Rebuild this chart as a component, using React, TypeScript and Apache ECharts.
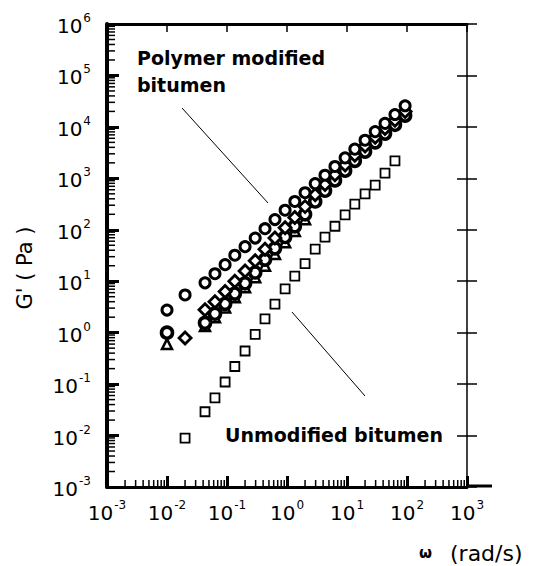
import React, { useEffect, useRef } from "react";
import * as echarts from "echarts";

// ω (rad/s) and G' (Pa) values
const unmodW = [0.02, 0.043, 0.063, 0.093, 0.135, 0.2, 0.295, 0.43, 0.63, 0.93, 1.35, 2.0, 2.95, 4.3, 6.3, 9.3, 13.5, 20, 29.5, 43, 63];
const unmodG = [0.0089, 0.029, 0.054, 0.11, 0.22, 0.44, 0.93, 1.86, 3.6, 7.1, 12.6, 22, 42, 72, 117, 195, 316, 500, 740, 1260, 2190];

const circW = [0.01, 0.02, 0.043, 0.063, 0.093, 0.135, 0.2, 0.295, 0.43, 0.63, 0.93, 1.35, 2.0, 2.95, 4.3, 6.3, 9.3, 13.5, 20, 29.5, 43, 63, 93];
const circG = [2.75, 5.4, 9.3, 14, 21, 32, 47, 69, 105, 158, 240, 355, 525, 790, 1150, 1700, 2500, 3700, 5500, 8100, 11700, 17400, 25700];

const starW = [0.01, 0.043, 0.063, 0.093, 0.135, 0.2, 0.295, 0.43, 0.63, 0.93, 1.35, 2.0, 2.95, 4.3, 6.3, 9.3, 13.5, 20, 29.5, 43, 63, 93];
const starG = [1.0, 1.55, 2.34, 3.63, 5.75, 9.12, 14.8, 26.3, 43.6, 72.4, 117, 200, 355, 575, 912, 1410, 2190, 3310, 5010, 7410, 11000, 16600];

const diamW = [0.02, 0.043, 0.063, 0.093, 0.135, 0.2, 0.295, 0.43, 0.63, 0.93, 1.35, 2.0, 2.95, 4.3, 6.3, 9.3, 13.5, 20, 29.5, 43, 63, 93];
const diamG = [0.79, 2.8, 4.0, 6.3, 10, 15.8, 25, 41.7, 69, 110, 174, 282, 479, 759, 1175, 1820, 2820, 4270, 6310, 9330, 13500, 20000];

const triW = [0.01, 0.043, 0.063, 0.093, 0.135, 0.2, 0.295, 0.43, 0.63, 0.93, 1.35, 2.0];
const triG = [0.6, 1.35, 2.0, 3.1, 4.9, 7.6, 12, 20, 34, 57, 95, 160];

const X_MIN = 1e-3, X_MAX = 1e3, Y_MIN = 1e-3, Y_MAX = 1e6;
const FONT = "DejaVu Sans";

function pairs(w: number[], g: number[]) {
  return w.map((v, i) => [v, g[i]]);
}

function minorValues(fromExp: number, toExp: number) {
  const out: number[] = [];
  for (let d = fromExp; d < toExp; d++) {
    for (let k = 2; k <= 9; k++) out.push(k * Math.pow(10, d));
  }
  return out;
}

const xMinor = minorValues(-3, 3);
const yMinor = minorValues(-3, 6);

const richLabel = {
  b: { fontSize: 20, fontFamily: FONT, color: "#000", verticalAlign: "bottom", lineHeight: 24 },
  e: { fontSize: 12, fontFamily: FONT, color: "#000", verticalAlign: "top", lineHeight: 24, padding: [0, 0, 0, 1] },
};

const fmt = (v: number) => `{b|10}{e|${Math.round(Math.log10(v))}}`;

const staticGraphic: any[] = [
  { type: "line", shape: { x1: 467, y1: 486, x2: 492, y2: 486 }, style: { stroke: "#000", lineWidth: 3 } },
  { type: "line", shape: { x1: 182, y1: 108, x2: 268, y2: 203 }, style: { stroke: "#000", lineWidth: 1 } },
  { type: "line", shape: { x1: 292, y1: 312, x2: 365, y2: 396 }, style: { stroke: "#000", lineWidth: 1 } },
  { type: "text", x: 137, y: 58, style: { text: "Polymer modified", font: `bold 19px "${FONT}"`, fill: "#000", textVerticalAlign: "middle" } },
  { type: "text", x: 137, y: 85, style: { text: "bitumen", font: `bold 19px "${FONT}"`, fill: "#000", textVerticalAlign: "middle" } },
  { type: "text", x: 225, y: 435, style: { text: "Unmodified bitumen", font: `bold 19px "${FONT}"`, fill: "#000", textVerticalAlign: "middle" } },
  { type: "text", x: 25, y: 268, rotation: Math.PI / 2, style: { text: "G' ( Pa )", font: `21px "${FONT}"`, fill: "#000", textAlign: "center", textVerticalAlign: "middle" } },
  { type: "text", x: 419, y: 553, style: { text: "ω", font: `bold 15px "${FONT}"`, fill: "#000", textVerticalAlign: "middle" } },
  { type: "text", x: 450, y: 553, style: { text: "(rad/s)", font: `22px "${FONT}"`, fill: "#000", textVerticalAlign: "middle" } },
];

export default function App() {
  const ref = useRef<HTMLDivElement>(null);
  useEffect(() => {
    document.body.style.margin = "0";
    const chart = echarts.init(ref.current!, undefined, { renderer: "svg" });
    const hollow = (bw: number) => ({ color: "#fff", borderColor: "#000", borderWidth: bw, opacity: 1 });
    chart.setOption({
      animation: false,
      backgroundColor: "#fff",
      grid: { left: 107, top: 24, right: 73, bottom: 79 },
      xAxis: [
        {
          type: "log", logBase: 10, min: X_MIN, max: X_MAX, position: "bottom",
          axisLine: { onZero: false, lineStyle: { color: "#000", width: 3 } },
          axisTick: { inside: true, length: 11, lineStyle: { color: "#000", width: 3 } },
          axisLabel: { formatter: fmt, rich: richLabel, margin: 12 },
          splitLine: { show: false },
        },
        {
          type: "log", logBase: 10, min: X_MIN, max: X_MAX, position: "top",
          axisLine: { onZero: false, lineStyle: { color: "#000", width: 3 } },
          axisTick: { inside: true, length: 8, lineStyle: { color: "#000", width: 1.5 } },
          axisLabel: { show: false },
          splitLine: { show: false },
        },
      ],
      yAxis: [
        {
          type: "log", logBase: 10, min: Y_MIN, max: Y_MAX, position: "left",
          axisLine: { onZero: false, lineStyle: { color: "#000", width: 4 } },
          axisTick: { inside: true, length: 12, lineStyle: { color: "#000", width: 3 } },
          axisLabel: { formatter: fmt, rich: richLabel, margin: 16 },
          splitLine: { show: false },
        },
        {
          type: "log", logBase: 10, min: Y_MIN, max: Y_MAX, position: "right",
          axisLine: { onZero: false, lineStyle: { color: "#000", width: 1.5 } },
          axisTick: { inside: true, length: 10, lineStyle: { color: "#000", width: 1.5 } },
          axisLabel: { show: false },
          splitLine: { show: false },
        },
        {
          type: "log", logBase: 10, min: Y_MIN, max: Y_MAX, position: "right",
          axisLine: { show: false, onZero: false },
          axisTick: { inside: false, length: 10, lineStyle: { color: "#000", width: 1.5 } },
          axisLabel: { show: false },
          splitLine: { show: false },
        },
      ],
      series: [
        { name: "Unmodified bitumen", type: "scatter", data: pairs(unmodW, unmodG), symbol: "rect", symbolSize: 9, itemStyle: hollow(1.8) },
        { name: "PMB triangles", type: "scatter", data: pairs(triW, triG), symbol: "triangle", symbolSize: 10, itemStyle: hollow(2.5) },
        { name: "PMB stars", type: "scatter", data: pairs(starW, starG), symbol: "circle", symbolSize: 11, itemStyle: hollow(3.6) },
        { name: "PMB diamonds", type: "scatter", data: pairs(diamW, diamG), symbol: "diamond", symbolSize: 12, itemStyle: hollow(2.8) },
        { name: "PMB circles", type: "scatter", data: pairs(circW, circG), symbol: "circle", symbolSize: 10, itemStyle: hollow(3) },
      ],
      graphic: staticGraphic,
    });

    // Minor (2..9) ticks on the log axes, positioned through the axes' own scales
    const bottomY = chart.convertToPixel({ yAxisIndex: 0 }, Y_MIN) as number;
    const leftX = chart.convertToPixel({ xAxisIndex: 0 }, X_MIN) as number;
    const minorLines: any[] = [];
    xMinor.forEach((v) => {
      const x = chart.convertToPixel({ xAxisIndex: 0 }, v) as number;
      if (isFinite(x) && isFinite(bottomY)) {
        minorLines.push({ type: "line", shape: { x1: x, y1: bottomY, x2: x, y2: bottomY - 7 }, style: { stroke: "#000", lineWidth: 1.5 } });
      }
    });
    yMinor.forEach((v) => {
      const y = chart.convertToPixel({ yAxisIndex: 0 }, v) as number;
      if (isFinite(y) && isFinite(leftX)) {
        minorLines.push({ type: "line", shape: { x1: leftX, y1: y, x2: leftX + 8, y2: y }, style: { stroke: "#000", lineWidth: 1.5 } });
      }
    });
    chart.setOption({ graphic: staticGraphic.concat(minorLines) });

    return () => chart.dispose();
  }, []);
  return <div ref={ref} style={{ position: "fixed", left: 0, top: 0, width: 540, height: 566 }} />;
}
